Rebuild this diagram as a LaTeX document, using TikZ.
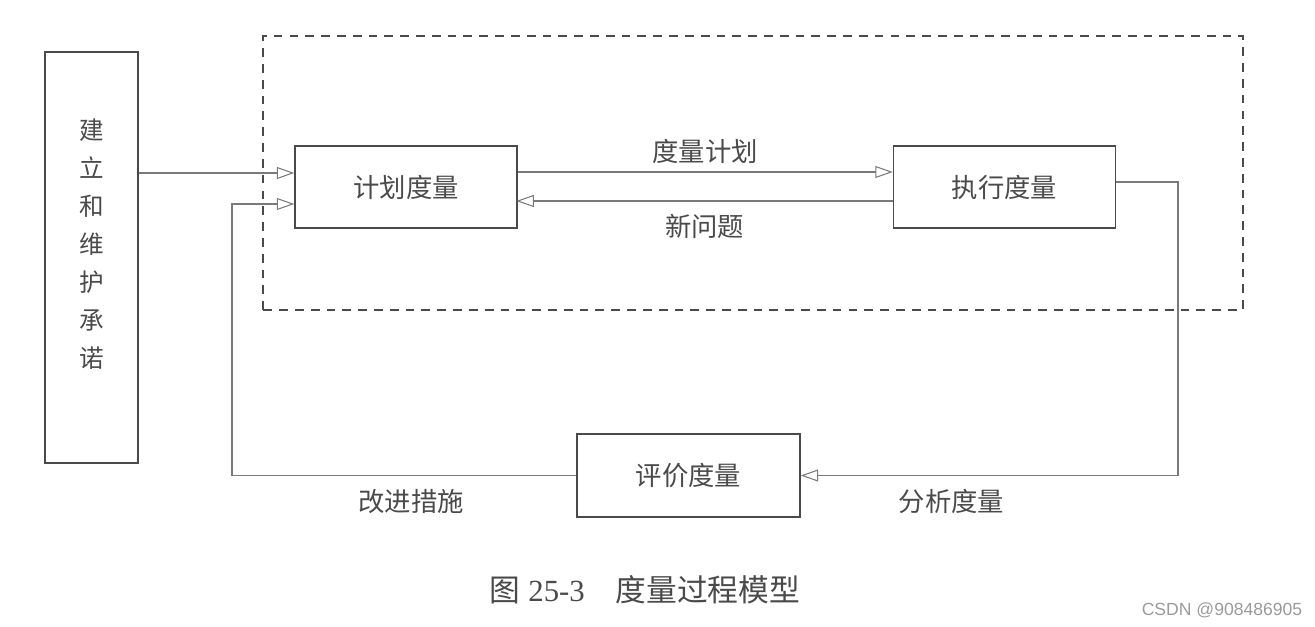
\documentclass[tikz,border=0pt]{standalone}
\usepackage{fontspec}
\setmainfont{Liberation Serif}
\newfontfamily\cjk{Noto Sans CJK SC}
\newfontfamily\wmfont{Liberation Sans}
\usepackage{xcolor}
\usetikzlibrary{arrows.meta,positioning,calc}
\definecolor{inkgray}{HTML}{4A4A4A}
\definecolor{linegray}{HTML}{7A7A7A}
\definecolor{markgray}{HTML}{9A9A9A}

\begin{document}
\begin{tikzpicture}[
  font=\cjk\fontsize{15}{18}\selectfont,
  text=inkgray,
  stage/.style={draw=inkgray,thick,minimum width=4.44cm,minimum height=1.64cm,align=center,inner sep=2pt},
  arr/.style={-{Triangle[open,length=3.5mm,width=2.4mm]},draw=linegray,semithick},
  lbl/.style={font=\cjk\fontsize{15}{18}\selectfont,text=inkgray}
]
\useasboundingbox (0,0) rectangle (26.3,12.52);
% dashed frame round planning and execution
\draw[inkgray,thick,dashed,dash pattern=on 5pt off 4pt] (5.26,6.32) rectangle (24.86,11.80);
\node[draw=inkgray,thick,minimum width=1.86cm,minimum height=8.22cm] (commit) at (1.83,7.37) {};
\node[align=center,font=\cjk\fontsize{14}{21.6}\selectfont] (committxt) at (1.83,7.63) {建\\立\\和\\维\\护\\承\\诺};
\node[stage] (plan) at (8.12,8.78)  {计划度量};
\node[stage] (exec) at (20.09,8.78) {执行度量};
\node[stage,minimum height=1.66cm,minimum width=4.46cm] (eval) at (13.77,3.01) {评价度量};
\coordinate (fbl) at (4.64,3.01);
\coordinate (exr) at (23.56,8.88);
\draw[arr] (commit.east |- 0,9.06) -- (plan.west |- 0,9.06);
\draw[arr] ($(plan.east)+(0,0.30)$) -- node[lbl,above=1pt]{度量计划} ($(exec.west)+(0,0.30)$);
\draw[arr] ($(exec.west)+(0,-0.28)$) -- node[lbl,below=4pt]{新问题} ($(plan.west)+(4.44,-0.28)$);
\draw[arr] ($(exec.east)+(0,0.10)$) -- (exr) |- node[lbl,pos=0.8,below=4pt]{分析度量} (eval.east);
\draw[arr] (eval.west) -- node[lbl,pos=0.48,below=4pt]{改进措施} (fbl) |- ($(plan.west)+(0,-0.34)$);
\node[font=\fontsize{17.5}{20}\selectfont,text=inkgray] (cap) at (12.9,0.72) {{\cjk 图} 25-3\quad {\cjk 度量过程模型}};
\node[font=\wmfont\fontsize{10}{12}\selectfont,text=markgray] (wm) at (24.44,0.32) {CSDN @908486905};
\end{tikzpicture}
\end{document}
